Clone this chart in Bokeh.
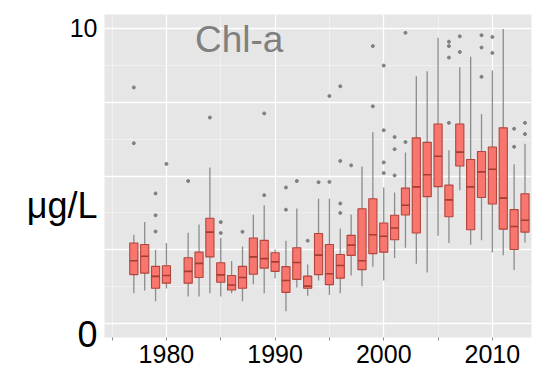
from bokeh.plotting import figure
from bokeh.layouts import row
from bokeh.models import FixedTicker, Range1d
from bokeh.core.properties import value
from bokeh.embed import file_html
from bokeh.resources import INLINE

years = [1977, 1978, 1979, 1980, 1982, 1983, 1984, 1985, 1986, 1987, 1988, 1989,
         1990, 1991, 1992, 1993, 1994, 1995, 1996, 1997, 1998, 1999, 2000, 2001,
         2002, 2003, 2004, 2005, 2006, 2007, 2008, 2009, 2010, 2011, 2012, 2013]
lower = [1.03, 1.12, 0.76, 1.19, 0.92, 0.92, 1.03, 0.92, 1.03, 0.76, 1.33, 1.03,
         1.53, 0.42, 1.22, 0.94, 1.46, 0.97, 1.03, 1.63, 1.27, 1.93, 1.46, 2.22,
         2.57, 2.03, 1.73, 2.98, 2.73, 4.52, 2.67, 2.82, 2.41, 2.32, 1.82, 2.75]
q1 = [1.66, 1.71, 1.20, 1.37, 1.37, 1.56, 2.26, 1.40, 1.14, 1.20, 1.67, 1.88,
      1.77, 1.06, 1.50, 1.20, 1.66, 1.32, 1.54, 2.31, 1.83, 2.37, 2.42, 2.84,
      3.68, 3.07, 4.30, 4.64, 3.62, 5.34, 3.18, 4.27, 4.05, 3.20, 2.51, 3.10]
median = [2.13, 2.28, 1.60, 1.63, 1.77, 2.04, 3.10, 1.65, 1.31, 1.56, 2.26, 2.20,
          2.09, 1.46, 2.07, 1.27, 2.32, 1.69, 1.97, 2.66, 2.13, 3.01, 2.96, 3.24,
          4.01, 4.63, 5.04, 5.67, 4.19, 5.81, 4.63, 5.14, 5.23, 4.25, 3.29, 3.50]
q3 = [2.73, 2.68, 1.94, 1.96, 2.23, 2.42, 3.57, 2.06, 1.63, 1.94, 2.90, 2.82,
      2.40, 1.93, 2.57, 1.61, 3.05, 2.68, 2.34, 2.99, 3.89, 4.23, 3.41, 3.67,
      4.59, 6.29, 6.14, 6.76, 4.69, 6.76, 5.56, 5.83, 5.98, 6.63, 3.86, 4.40]
upper = [3.01, 3.44, 2.50, 2.73, 3.08, 3.36, 5.29, 2.90, 2.12, 2.61, 3.69, 4.01,
         2.51, 2.81, 3.90, 2.00, 4.23, 4.23, 3.22, 3.70, 5.32, 6.48, 4.61, 4.44,
         5.80, 8.38, 8.55, 9.68, 5.87, 8.68, 9.04, 7.10, 8.57, 9.98, 5.40, 6.09]

out_year = [1977, 1977, 1979, 1979, 1979, 1980, 1982, 1984, 1985, 1985, 1987,
            1989, 1989, 1991, 1991, 1992, 1993, 1994, 1995, 1995,
            1996, 1996, 1996, 1996, 1997, 1999, 1999, 2000, 2000, 2000, 2000,
            2001, 2001, 2001, 2002, 2002, 2006, 2006, 2006, 2006, 2007, 2007,
            2009, 2009, 2009, 2010, 2010, 2012, 2012, 2013, 2013]
out_value = [8.00, 6.11, 4.41, 3.67, 3.12, 5.41, 4.83, 6.98, 3.44, 3.07, 3.11,
             7.12, 4.35, 4.61, 3.86, 4.83, 2.81, 4.79, 4.80, 7.71,
             3.75, 4.07, 5.51, 8.04, 5.36, 7.36, 9.40, 8.74, 6.55, 5.46, 5.10,
             6.32, 5.91, 5.02, 6.15, 9.85, 6.80, 9.01, 9.40, 9.55, 9.20, 9.73,
             8.36, 9.35, 9.77, 9.17, 9.71, 5.99, 6.60, 6.42, 6.80]

x_ticks = [1980, 1990, 2000, 2010]
x_minor = [1975, 1985, 1995, 2005]
y_ticks = [0, 2.5, 5, 7.5, 10]
y_minor = [1.25, 3.75, 6.25, 8.75]
y_labels = ["10", "μg/L", "0"]
y_label_pos = [10.02, 3.99, -0.345]
y_label_size = ["25px", "36px", "36px"]

FONT = "Liberation Sans"
box_w = 0.75
H = 367
LEFT_W = 104
TOP, BOTTOM = 14, 30
Y0, Y1 = -0.47, 10.47

# ---- main panel ----
p = figure(width=539 - LEFT_W, height=H, output_backend="svg", toolbar_location=None,
           title=None,
           x_range=Range1d(1974.3, 2013.6), y_range=Range1d(Y0, Y1),
           y_axis_location=None,
           min_border_left=0, min_border_right=8, min_border_top=TOP,
           min_border_bottom=BOTTOM)
p.background_fill_color = "#E6E6E6"
p.border_fill_color = "white"
p.outline_line_color = None

p.xgrid.ticker = FixedTicker(ticks=x_ticks, minor_ticks=x_minor)
p.ygrid.ticker = FixedTicker(ticks=y_ticks, minor_ticks=y_minor)
for g in (p.xgrid, p.ygrid):
    g.grid_line_color = "white"
    g.grid_line_width = 1.3
    g.minor_grid_line_color = "#F3F3F3"
    g.minor_grid_line_width = 0.7

xa = p.xaxis[0]
xa.ticker = FixedTicker(ticks=x_ticks, minor_ticks=x_minor)
xa.axis_line_color = None
xa.major_tick_line_color = "#8C8C8C"
xa.minor_tick_line_color = "#8C8C8C"
xa.major_tick_out = 3
xa.major_tick_in = 0
xa.minor_tick_out = 3
xa.minor_tick_in = 0
xa.major_label_text_font = FONT
xa.major_label_text_font_size = "25px"
xa.major_label_text_color = "black"
xa.major_label_standoff = 4

p.segment(x0=years, y0=q3, x1=years, y1=upper, line_color="#8C8C8C", line_width=1.3)
p.segment(x0=years, y0=lower, x1=years, y1=q1, line_color="#8C8C8C", line_width=1.3)
p.vbar(x=years, width=box_w, bottom=q1, top=q3, fill_color="#F8766D",
       line_color="#B0463D", line_width=1.1)
p.segment(x0=[y - box_w / 2 for y in years], y0=median,
          x1=[y + box_w / 2 for y in years], y1=median,
          line_color="#A23E36", line_width=1.6)
p.scatter(x=out_year, y=out_value, size=3, fill_color="#7F7F7F",
          line_color="#7F7F7F")
p.text(x=[1986.7], y=[9.63], text=["Chl-a"], text_font=value(FONT),
       text_font_size="37px", text_color="#808080", text_align="center",
       text_baseline="alphabetic")

# ---- left strip with the y-axis texts, same vertical scale ----
left = figure(width=LEFT_W, height=H, output_backend="svg", toolbar_location=None,
              title=None,
              x_range=Range1d(0, LEFT_W), y_range=Range1d(Y0, Y1),
              x_axis_location=None, y_axis_location=None,
              min_border_left=0, min_border_right=0, min_border_top=TOP,
              min_border_bottom=BOTTOM)
left.xgrid.visible = False
left.ygrid.visible = False
left.outline_line_color = None
left.background_fill_color = "white"
left.border_fill_color = "white"
for t, yv, fs in zip(y_labels, y_label_pos, y_label_size):
    left.text(x=[97], y=[yv], text=[t], text_font=value(FONT), text_font_size=fs,
              text_color="black", text_align="right", text_baseline="alphabetic",
              level="overlay")

layout = row(left, p, spacing=0)
open("out.html", "w").write(file_html(layout, INLINE))
